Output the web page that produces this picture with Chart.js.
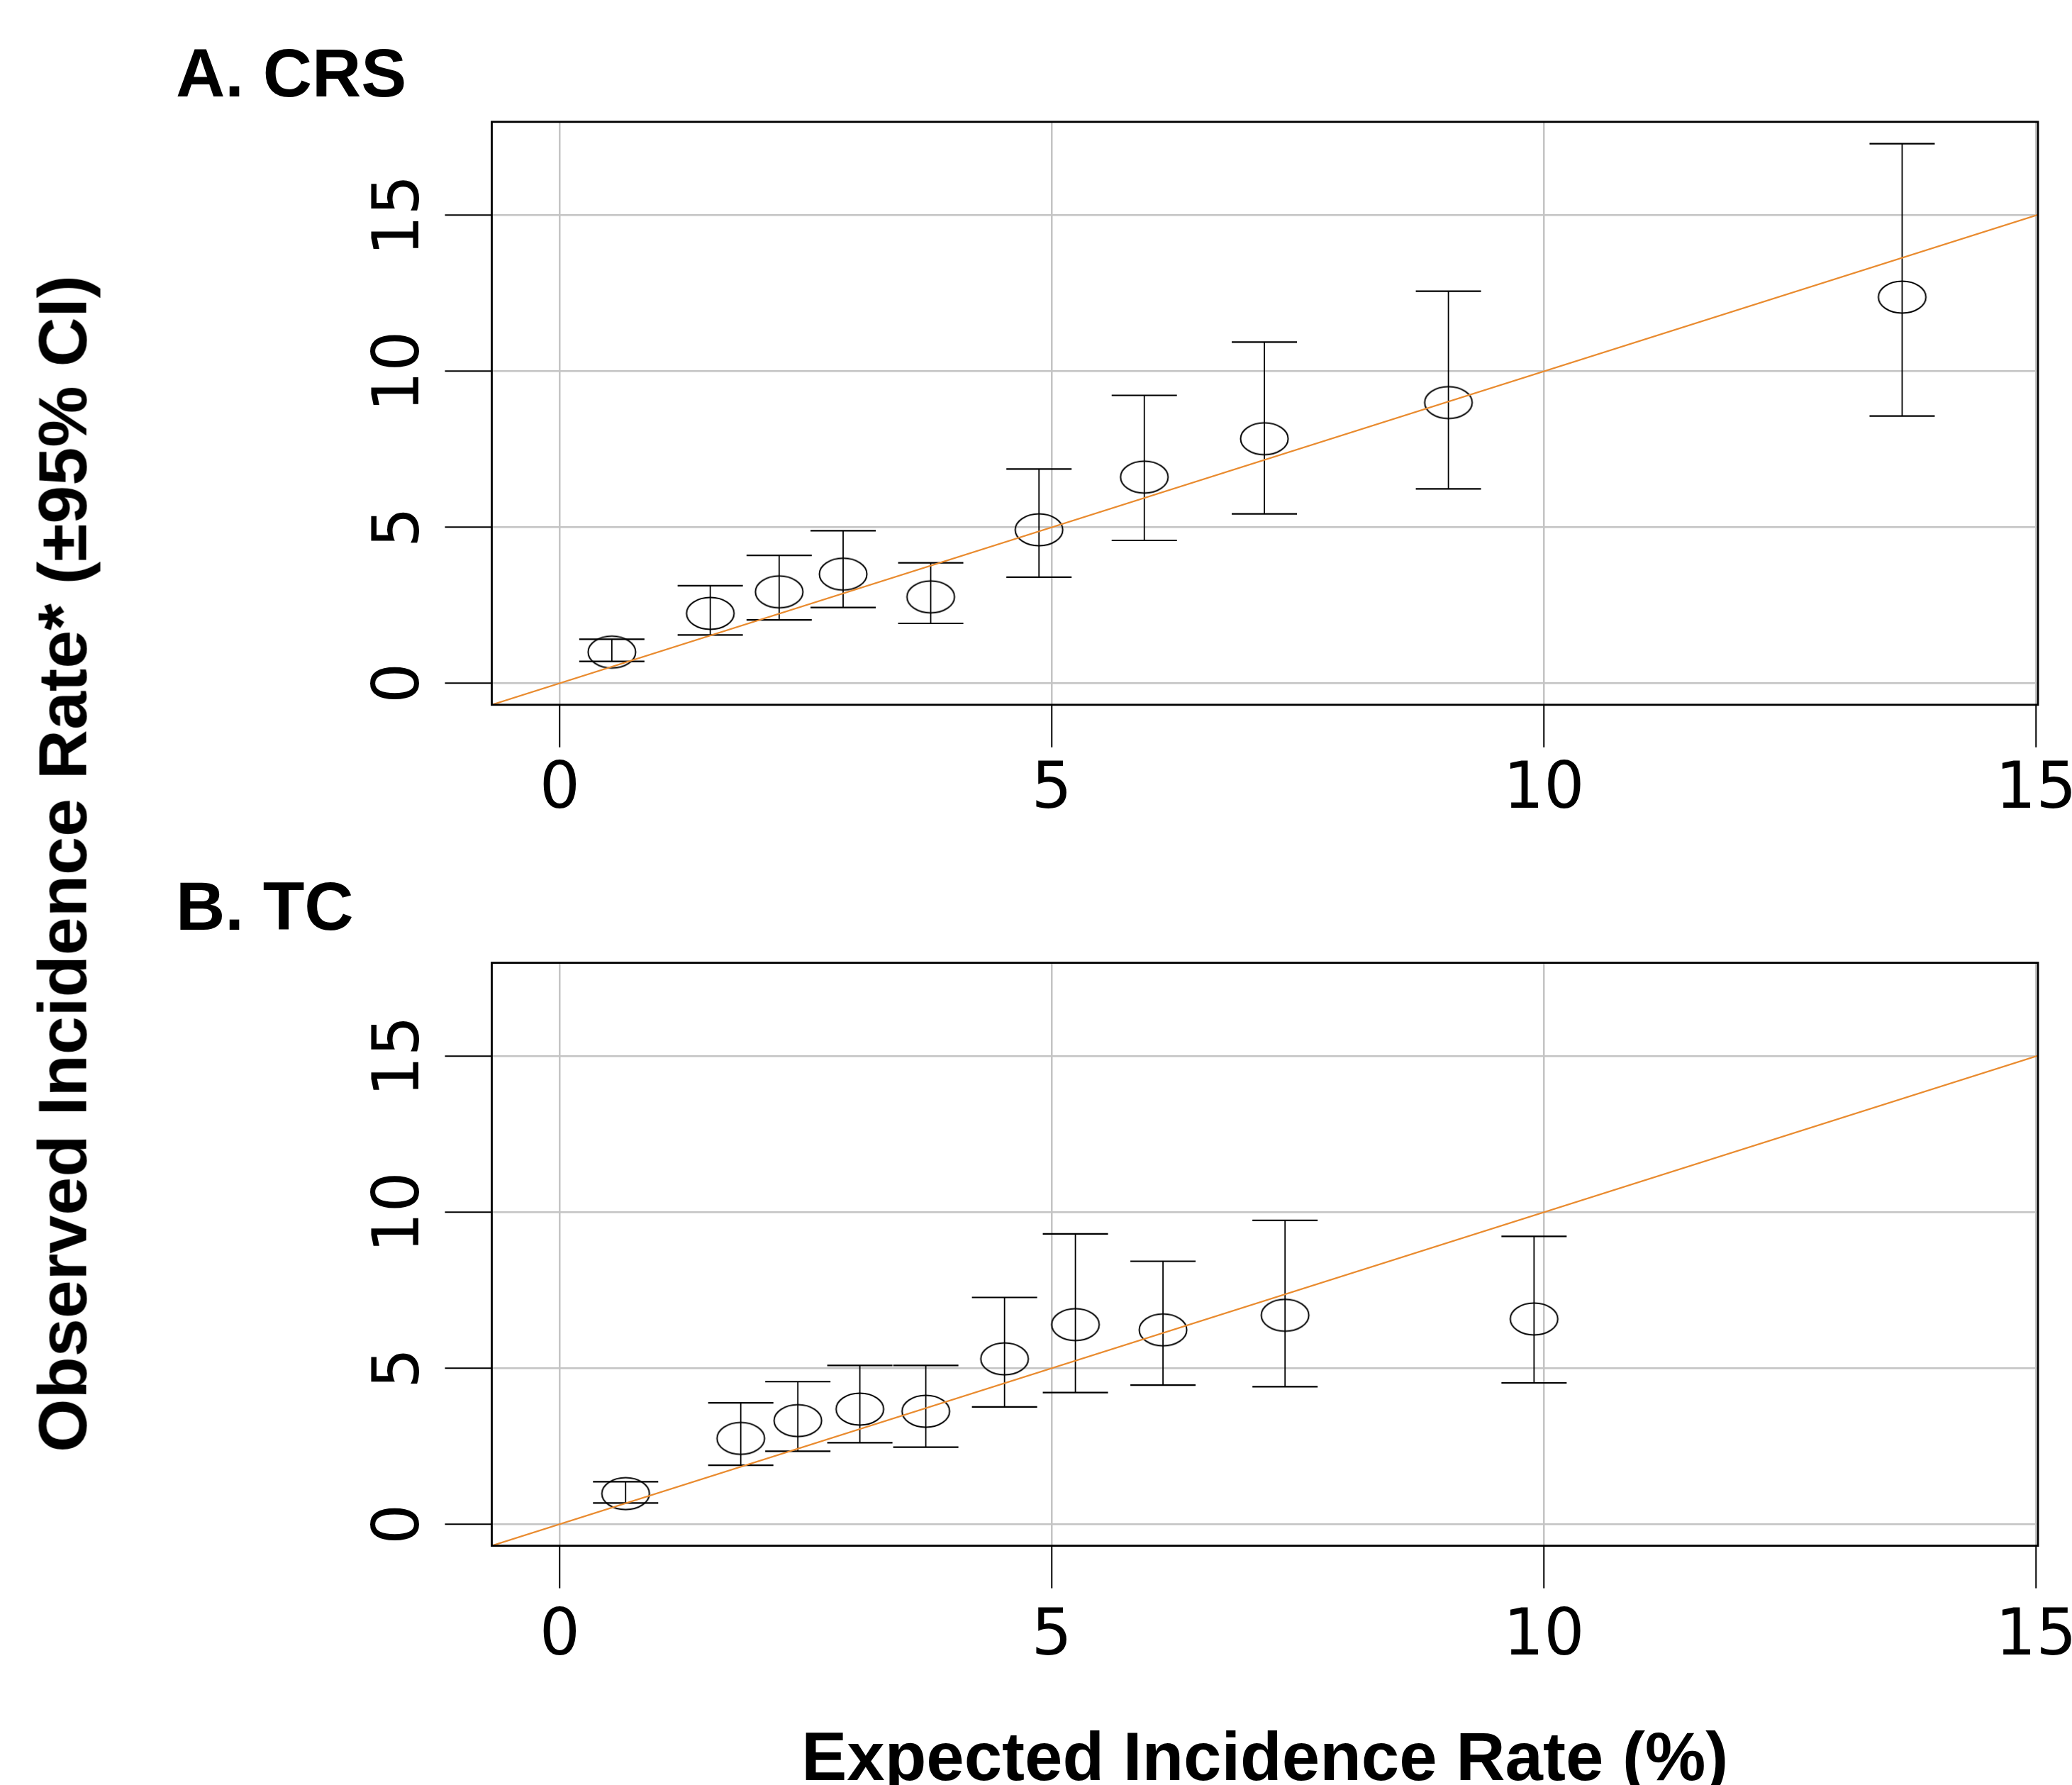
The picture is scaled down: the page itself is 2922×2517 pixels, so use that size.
<!DOCTYPE html>
<html>
<head>
<meta charset="utf-8">
<script src="https://cdn.jsdelivr.net/npm/chart.js@4.4.0/dist/chart.umd.min.js"></script>
<style>
html,body{margin:0;padding:0;background:#fff;overflow:hidden;width:2922px;height:2517px;}
#wrap{position:relative;width:2922px;height:2517px;overflow:hidden;background:#fff;}
canvas{position:absolute;left:0;}
#cA{top:0;}
#cB{top:1186px;}
#ylab{position:absolute;left:88px;top:1217.5px;transform:translate(-50%,-50%) rotate(-90deg);
  font-family:"Liberation Sans",Arial,sans-serif;font-weight:bold;font-size:97px;line-height:97px;
  white-space:nowrap;color:#000;}
</style>
</head>
<body>
<div id="wrap">
  <canvas id="cA" width="2922" height="1186"></canvas>
  <canvas id="cB" width="2922" height="1371"></canvas>
  <div id="ylab">Observed Incidence Rate* (±95% CI)</div>
</div>
<script>
// ---------- data ----------
const panelTitles = ["A. CRS", "B. TC"];
const xAxisTitle = "Expected Incidence Rate (%)";

const xTicks = [0, 5, 10, 15];
const xTickLabels = ["0", "5", "10", "15"];
const yTicks = [0, 5, 10, 15];
const yTickLabels = ["0", "5", "10", "15"];
const axisMinX = -0.69, axisMaxX = 15.02;
const axisMinY = -0.69, axisMaxY = 18.0;

const crsExpected = [0.53, 1.53, 2.23, 2.88, 3.77, 4.87, 5.94, 7.16, 9.03, 13.64];
const crsObserved = [1.00, 2.24, 2.93, 3.50, 2.77, 4.92, 6.61, 7.84, 9.00, 12.38];
const crsLower    = [0.70, 1.55, 2.03, 2.43, 1.92, 3.40, 4.58, 5.43, 6.23, 8.57];
const crsUpper    = [1.41, 3.13, 4.10, 4.89, 3.86, 6.87, 9.23, 10.94, 12.57, 17.30];

const tcExpected = [0.67, 1.84, 2.42, 3.05, 3.72, 4.52, 5.24, 6.13, 7.37, 9.90];
const tcObserved = [0.98, 2.75, 3.32, 3.69, 3.62, 5.30, 6.40, 6.23, 6.70, 6.58];
const tcLower    = [0.68, 1.89, 2.34, 2.61, 2.47, 3.76, 4.22, 4.46, 4.41, 4.53];
const tcUpper    = [1.36, 3.89, 4.57, 5.09, 5.09, 7.27, 9.31, 8.43, 9.74, 9.23];

// ---------- styles ----------
const GRID = '#c4c4c4';
const ORANGE = '#e98b2f';
const TICK_FONT = {family: '"DejaVu Sans", "Liberation Sans", sans-serif', size: 90, lineHeight: 1.2};
const BOLD_FONT = {family: '"Liberation Sans", Arial, sans-serif', weight: 'bold', size: 96, lineHeight: 1.2};

function makeEllipse() {
  const c = document.createElement('canvas');
  c.width = 74; c.height = 52;
  const g = c.getContext('2d');
  g.strokeStyle = '#000';
  g.lineWidth = 2;
  g.beginPath();
  g.ellipse(37, 26, 33.5, 22.5, 0, 0, Math.PI * 2);
  g.stroke();
  return c;
}
const ellipseMarker = makeEllipse();

const errorBarPlugin = {
  id: 'errorBars',
  beforeDatasetsDraw(chart, args, opts) {
    const xs = chart.scales.x, ys = chart.scales.y, ctx = chart.ctx;
    ctx.save();
    ctx.strokeStyle = '#000';
    for (let i = 0; i < opts.x.length; i++) {
      const px = xs.getPixelForValue(opts.x[i]);
      const pl = ys.getPixelForValue(opts.lower[i]);
      const pu = ys.getPixelForValue(opts.upper[i]);
      ctx.lineWidth = 1.8;
      ctx.beginPath(); ctx.moveTo(px, pl); ctx.lineTo(px, pu); ctx.stroke();
      ctx.lineWidth = 2.2;
      ctx.beginPath();
      ctx.moveTo(px - 46, pl); ctx.lineTo(px + 46, pl);
      ctx.moveTo(px - 46, pu); ctx.lineTo(px + 46, pu);
      ctx.stroke();
    }
    ctx.restore();
  }
};

const boxPlugin = {
  id: 'plotBox',
  afterDatasetsDraw(chart) {
    const a = chart.chartArea, ctx = chart.ctx;
    ctx.save();
    ctx.strokeStyle = '#000';
    ctx.lineWidth = 2.8;
    ctx.strokeRect(a.left, a.top, a.right - a.left, a.bottom - a.top);
    ctx.restore();
  }
};

function makePanel(id, title, titlePad, ex, ob, lo, up, xScaleHeight, xTickPad, showXTitle) {
  const pts = ex.map((x, i) => ({x: x, y: ob[i]}));
  return new Chart(document.getElementById(id), {
    type: 'scatter',
    data: {
      datasets: [
        {
          type: 'scatter',
          data: pts,
          pointStyle: ellipseMarker,
          pointRadius: 30,
          order: 1
        },
        {
          type: 'scatter',
          data: [{x: axisMinX, y: axisMinX}, {x: axisMaxX, y: axisMaxX}],
          showLine: true,
          borderColor: ORANGE,
          borderWidth: 2.2,
          pointRadius: 0,
          order: 0
        }
      ]
    },
    options: {
      responsive: false,
      animation: false,
      devicePixelRatio: 1,
      layout: {padding: {left: 248, right: 48, top: 0, bottom: 0}},
      plugins: {
        legend: {display: false},
        tooltip: {enabled: false},
        title: {
          display: true, text: title, align: 'start', color: '#000',
          font: BOLD_FONT, padding: titlePad
        },
        errorBars: {x: ex, lower: lo, upper: up}
      },
      scales: {
        x: {
          type: 'linear', min: axisMinX, max: axisMaxX,
          afterBuildTicks: s => { s.ticks = xTicks.map(v => ({value: v})); },
          afterFit: s => { s.height = xScaleHeight; s.paddingLeft = 0; s.paddingRight = 0; },
          ticks: {
            color: '#000', font: TICK_FONT, padding: xTickPad, autoSkip: false,
            minRotation: 0, maxRotation: 0,
            callback: (v, i) => xTickLabels[i]
          },
          grid: {color: GRID, lineWidth: 2.5, tickColor: '#000', tickWidth: 2, tickLength: 60, drawTicks: true},
          border: {display: false},
          title: {
            display: showXTitle, text: xAxisTitle, color: '#000', font: BOLD_FONT,
            padding: {top: 0, bottom: 16}
          }
        },
        y: {
          type: 'linear', min: axisMinY, max: axisMaxY,
          afterBuildTicks: s => { s.ticks = yTicks.map(v => ({value: v})); },
          afterFit: s => { s.width = 445.5; s.paddingTop = 0; s.paddingBottom = 0; },
          ticks: {
            color: '#000', font: TICK_FONT, padding: 3.5, autoSkip: false,
            minRotation: 90, maxRotation: 90, crossAlign: 'center',
            callback: (v, i) => yTickLabels[i]
          },
          grid: {color: GRID, lineWidth: 2.5, tickColor: '#000', tickWidth: 2, tickLength: 66, drawTicks: true},
          border: {display: false}
        }
      }
    },
    plugins: [errorBarPlugin, boxPlugin]
  });
}

makePanel('cA', panelTitles[0], {top: 51.8, bottom: 4.8},
  crsExpected, crsObserved, crsLower, crsUpper, 1186 - 993.8, 8, false);
makePanel('cB', panelTitles[1], {top: 41.1, bottom: 15.3},
  tcExpected, tcObserved, tcLower, tcUpper, 1371 - 993.6, 16, true);
</script>
</body>
</html>
